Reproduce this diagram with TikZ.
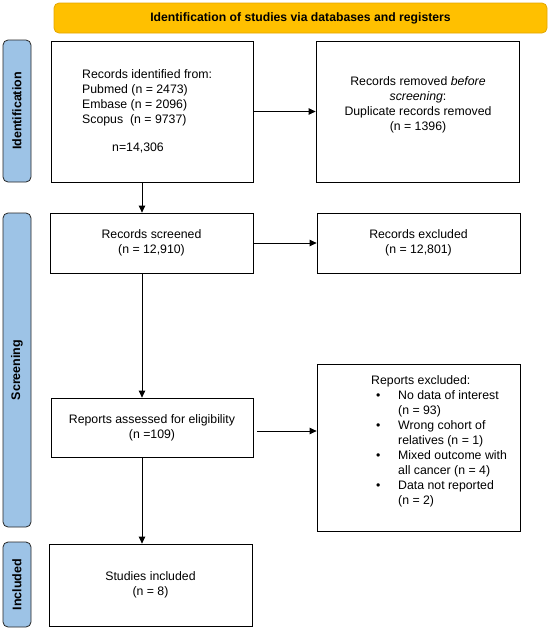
\documentclass[tikz,border=0pt]{standalone}
\usepackage{fontspec}
\setmainfont{Liberation Sans}
\usetikzlibrary{arrows.meta}
\definecolor{bannerfill}{HTML}{FFC000}
\definecolor{bannerline}{HTML}{E3A600}
\definecolor{phasefill}{HTML}{9DC3E6}
\newcommand{\itm}{\hspace*{5pt}\makebox[22pt][l]{\textbullet}}
\newcommand{\cont}{\hspace*{27pt}}

\begin{document}
\begin{tikzpicture}[
  x=1pt, y=-1pt,
  every node/.style={font=\fontsize{12.3}{15}\selectfont},
  box/.style={draw, line width=0.8pt, align=center},
  txt/.style={inner sep=0pt},
  phase/.style={draw=black!85, fill=phasefill, line width=0.8pt, rounded corners=5pt,
    rotate=90, minimum height=28pt, font=\fontsize{12.5}{15}\selectfont\bfseries},
  arr/.style={-{Triangle[length=7pt,width=6.5pt]}, line width=0.8pt}
]
\useasboundingbox (0,0) rectangle (550,630);

\node[draw=bannerline, fill=bannerfill, line width=0.8pt, rounded corners=5pt,
  minimum width=493pt, minimum height=30pt, font=\fontsize{12.2}{15}\selectfont\bfseries]
  (banner) at (300.5,18) {Identification of studies via databases and registers};

\node[phase, minimum width=142pt] (ident) at (17,111) {Identification};
\node[phase, minimum width=314pt] (screen) at (17,370) {Screening};
\node[phase, minimum width=85pt] (incl) at (17,584.5) {Included};

\node[box, minimum width=202pt, minimum height=141pt] (ids) at (152,111.5) {};
\node[txt, align=left, anchor=west] (idstxt) at (82,111.5)
  {Records identified from:\\ Pubmed (n = 2473)\\ Embase (n = 2096)\\ Scopus\ \ (n = 9737)\\[13pt]
   \hspace*{30pt}n=14,306};
\node[box, minimum width=203pt, minimum height=141pt] (removed) at (417.5,111.5) {};
\node[txt, align=center] (removedtxt) at (418,104.5)
  {Records removed \textit{before}\\ \textit{screening}:\\ Duplicate records removed\\ (n = 1396)};
\node[box, minimum width=203pt, minimum height=60pt] (screened) at (151.5,243)
  {Records screened\\ (n = 12,910)};
\node[box, minimum width=203pt, minimum height=60pt] (excluded) at (418.5,243)
  {Records excluded\\ (n = 12,801)};
\node[box, minimum width=202pt, minimum height=59pt] (assessed) at (152,427.5)
  {Reports assessed for eligibility\\ (n =109)};
\node[box, minimum width=203pt, minimum height=167pt] (repexcl) at (418.5,447.5) {};
\node[txt, align=left, anchor=west] (repexcltxt) at (371,441.5)
  {Reports excluded:\\
   \itm No data of interest\\ \cont(n = 93)\\
   \itm Wrong cohort of\\ \cont relatives (n = 1)\\
   \itm Mixed outcome with\\ \cont all cancer (n = 4)\\
   \itm Data not reported\\ \cont(n = 2)};
\node[box, minimum width=203pt, minimum height=82pt] (included) at (150.5,585)
  {Studies included\\ (n = 8)};

\draw[arr] (ids.east) -- (removed.west);
\draw[arr] ([xshift=-10pt]ids.south) -- ([xshift=-9.5pt]screened.north);
\draw[arr] (screened.east) -- (excluded.west);
\draw[arr] ([xshift=-9.5pt]screened.south) -- ([xshift=-10pt]assessed.north);
\draw[arr] ([xshift=4pt,yshift=-3.5pt]assessed.east) -- ([yshift=-3.5pt]assessed.east -| repexcl.west);
\draw[arr] ([xshift=-10pt]assessed.south) -- ([xshift=-8.5pt]included.north);
\end{tikzpicture}
\end{document}
